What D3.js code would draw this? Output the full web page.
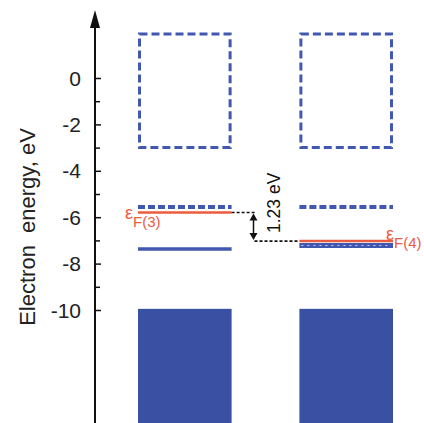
<!DOCTYPE html>
<html><head><meta charset="utf-8">
<script src="https://cdn.jsdelivr.net/npm/d3@7"></script>
<style>body{margin:0;background:#fff}svg{display:block}</style>
</head><body>
<svg id="c" width="424" height="423"></svg>
<script>
const compounds = ["3", "4"];
const cbTop = [1.9, 1.9];
const cbBottom = [-3.0, -3.0];
const vbTop = [-9.95, -9.95];
const dashedLevel = [-5.56, -5.56];
const fermiLevel = [-5.8, -7.03];
const lowerLevel = [-7.37, -7.22];
const majorTicks = [0, -2, -4, -6, -8, -10];
const minorTicks = [-1, -3, -5, -7, -9];
const gapLabel = "1.23 eV";
const yLabel = "Electron  energy, eV";

const blue = "#3a51a3", blueLine = "#4257b0", red = "#ea5b3f";
const font = "Liberation Sans, Arial, sans-serif";
const svg = d3.select("#c");
const y = d3.scaleLinear().domain([0, -10]).range([78, 310]);
const x = d3.scaleBand().domain(compounds).range([138, 393]).paddingInner(0.42).paddingOuter(0);
const bw = x.bandwidth();
const axisX = 95;

// valence band blocks
svg.selectAll("rect.vb").data(compounds).join("rect")
  .attr("x", d => x(d)).attr("y", (d, i) => y(vbTop[i]))
  .attr("width", bw).attr("height", (d, i) => 423 - y(vbTop[i]))
  .attr("fill", blue);

// conduction band dashed boxes
svg.selectAll("rect.cb").data(compounds).join("rect")
  .attr("x", d => x(d) + 1.5).attr("y", (d, i) => y(cbTop[i]))
  .attr("width", bw - 3).attr("height", (d, i) => y(cbBottom[i]) - y(cbTop[i]))
  .attr("fill", "none").attr("stroke", blueLine).attr("stroke-width", 3)
  .attr("stroke-dasharray", "8,4");

// dashed levels
svg.selectAll("line.dl").data(compounds).join("line")
  .attr("x1", d => x(d)).attr("x2", d => x(d) + bw)
  .attr("y1", (d, i) => y(dashedLevel[i])).attr("y2", (d, i) => y(dashedLevel[i]))
  .attr("stroke", blueLine).attr("stroke-width", 4).attr("stroke-dasharray", "7,3");

// lower levels
svg.selectAll("line.ll").data(compounds).join("line")
  .attr("x1", d => x(d)).attr("x2", d => x(d) + bw)
  .attr("y1", (d, i) => y(lowerLevel[i])).attr("y2", (d, i) => y(lowerLevel[i]))
  .attr("stroke", blueLine).attr("stroke-width", (d, i) => i === 0 ? 3.5 : 5);
svg.append("line")
  .attr("x1", x("4") + 2).attr("x2", x("4") + bw - 2)
  .attr("y1", y(lowerLevel[1])).attr("y2", y(lowerLevel[1]))
  .attr("stroke", "#c8cfee").attr("stroke-width", 1.2).attr("stroke-dasharray", "2,4");

// fermi levels
svg.selectAll("line.fl").data(compounds).join("line")
  .attr("x1", d => x(d)).attr("x2", d => x(d) + bw)
  .attr("y1", (d, i) => y(fermiLevel[i])).attr("y2", (d, i) => y(fermiLevel[i]))
  .attr("stroke", red).attr("stroke-width", 2.5);

// fermi labels
function fermiLabel(xp, yp, sub) {
  const t = svg.append("text").attr("x", xp).attr("y", yp)
    .attr("fill", red).attr("font-family", font);
  t.append("tspan").attr("font-size", 18).text("ε");
  t.append("tspan").attr("font-size", 15).attr("dy", 8).text(sub);
}
fermiLabel(125, y(fermiLevel[0]) + 6, "F(3)");
fermiLabel(386, y(fermiLevel[1]) - 1, "F(4)");

// gap annotation
const xa = 253.5;
const yA = y(fermiLevel[0]), yB = y(fermiLevel[1]);
svg.append("line").attr("x1", x("3") + bw).attr("x2", xa + 3).attr("y1", yA).attr("y2", yA)
  .attr("stroke", "#111").attr("stroke-width", 1.6).attr("stroke-dasharray", "3,2");
svg.append("line").attr("x1", xa + 1).attr("x2", x("4")).attr("y1", yB).attr("y2", yB)
  .attr("stroke", "#111").attr("stroke-width", 1.6).attr("stroke-dasharray", "3,2");
svg.append("line").attr("x1", xa).attr("x2", xa).attr("y1", yA + 5).attr("y2", yB - 5)
  .attr("stroke", "#111").attr("stroke-width", 1.5);
svg.append("path").attr("d", `M${xa},${yA + 1}l-4,7h8z`).attr("fill", "#111");
svg.append("path").attr("d", `M${xa},${yB - 1}l-4,-7h8z`).attr("fill", "#111");
svg.append("text").attr("transform", `translate(280,${(yA + yB) / 2 - 24}) rotate(-90)`)
  .attr("text-anchor", "middle").attr("font-size", 17.5)
  .attr("font-family", font).attr("fill", "#111").text(gapLabel);

// axis
svg.append("line").attr("x1", axisX).attr("x2", axisX).attr("y1", 25).attr("y2", 423)
  .attr("stroke", "#111").attr("stroke-width", 2);
svg.append("path").attr("d", `M${axisX},10L${axisX - 5},28L${axisX + 5},28Z`).attr("fill", "#111");
const axis = d3.axisRight(y).tickValues(majorTicks).tickSize(6).tickFormat("");
const ag = svg.append("g").attr("transform", `translate(${axisX},0)`).call(axis);
ag.select(".domain").remove();
ag.selectAll(".tick line").attr("stroke", "#111").attr("stroke-width", 1.5);
const minor = d3.axisRight(y).tickValues(minorTicks).tickSize(5).tickFormat("");
const mg = svg.append("g").attr("transform", `translate(${axisX},0)`).call(minor);
mg.select(".domain").remove();
mg.selectAll(".tick line").attr("stroke", "#111").attr("stroke-width", 1.5);

svg.selectAll("text.tl").data(majorTicks).join("text")
  .attr("x", 81).attr("y", d => y(d) + 7.5).attr("text-anchor", "end")
  .attr("font-size", 21).attr("font-family", font)
  .attr("fill", "#222").text(d => d);

svg.append("text").attr("transform", "translate(35,227) rotate(-90)")
  .attr("text-anchor", "middle").attr("font-size", 22)
  .attr("font-family", font).attr("fill", "#222")
  .style("white-space", "pre").text(yLabel);
</script>
</body></html>
